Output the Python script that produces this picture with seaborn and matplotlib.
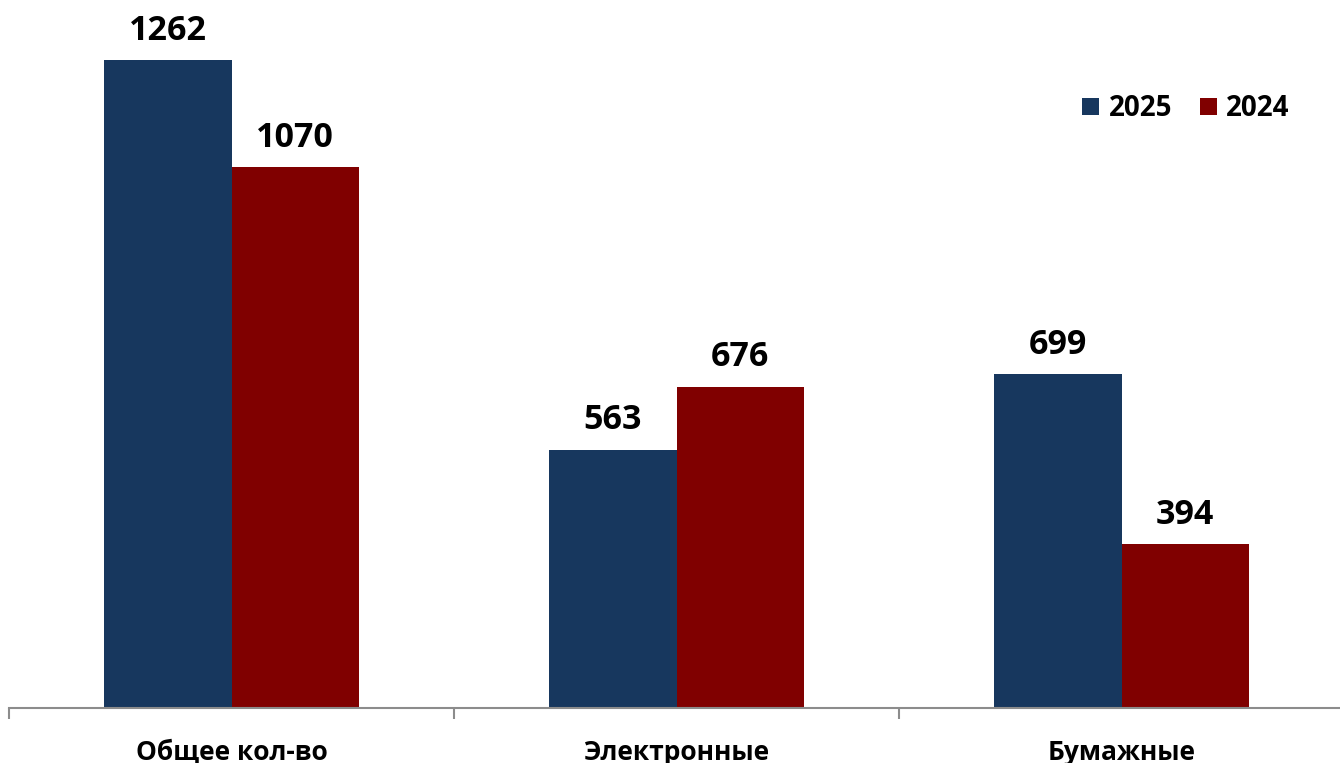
import matplotlib
matplotlib.use("Agg")
import matplotlib.pyplot as plt
import pandas as pd
import seaborn as sns

categories = ["Общее кол-во", "Электронные", "Бумажные"]
years = ["2025", "2024"]
values_2025 = [1262, 563, 699]
values_2024 = [1070, 676, 394]
colors = {"2025": "#17375E", "2024": "#800000"}

df = pd.DataFrame({
    "category": categories * 2,
    "year": ["2025"] * 3 + ["2024"] * 3,
    "value": values_2025 + values_2024,
})

sns.set_style("white")
plt.rcParams["font.family"] = ["Open Sans", "DejaVu Sans"]
plt.rcParams["text.color"] = "black"
plt.rcParams["xtick.color"] = "black"

fig = plt.figure(figsize=(13.4, 7.63), dpi=100)
ax = fig.add_axes([9 / 1340, 55 / 763, (1344 - 9) / 1340, 1 - 55 / 763])

sns.barplot(data=df, x="category", y="value", hue="year", hue_order=years,
            palette=colors, width=0.572, gap=0, saturation=1, linewidth=0, ax=ax)

for cont in ax.containers:
    ax.bar_label(cont, padding=9, fontsize=24.5, fontweight="bold", color="black")

ax.set_xlim(-0.5, 2.5)
ax.set_ylim(100, 1370)
ax.set_xlabel("")
ax.set_ylabel("")
ax.set_yticks([])
for s in ["top", "right", "left"]:
    ax.spines[s].set_visible(False)
ax.spines["bottom"].set_color("#8c8c8c")
ax.spines["bottom"].set_linewidth(1.5)

ax.set_xticks([0, 1, 2])
ax.set_xticklabels(categories, fontsize=19, fontweight="bold", color="black")
ax.tick_params(axis="x", which="major", length=0, pad=22)
ax.set_xticks([-0.5, 0.5, 1.5, 2.5], minor=True)
ax.tick_params(axis="x", which="minor", bottom=True, length=8, width=1.5,
               color="#8c8c8c", direction="out")

leg = ax.legend(loc="upper right", bbox_to_anchor=(0.978, 0.902), ncol=2, frameon=False,
                handlelength=0.6, handleheight=0.6, handletextpad=0.35, columnspacing=1.0,
                prop={"size": 20, "weight": "bold"})

fig.savefig("out.png", dpi=100)
